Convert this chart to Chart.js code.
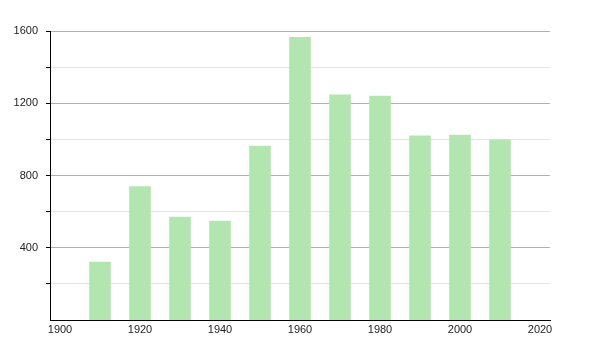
<!DOCTYPE html>
<html><head><meta charset="utf-8">
<script src="https://cdn.jsdelivr.net/npm/chart.js@4"></script>
<style>html,body{margin:0;padding:0;background:#fff}#c{display:block}</style>
</head><body>
<canvas id="c" width="600" height="350"></canvas>
<script>
const years = [1910, 1920, 1930, 1940, 1950, 1960, 1970, 1980, 1990, 2000, 2010];
const population = [320, 738, 570, 548, 963, 1565, 1246, 1240, 1019, 1024, 997];
const xTicks = [1900, 1920, 1940, 1960, 1980, 2000, 2020];
const yLabels = [400, 800, 1200, 1600];

const ctx = document.getElementById('c').getContext('2d');
new Chart(ctx, {
  type: 'bar',
  data: {
    datasets: [{
      data: years.map((y, i) => ({x: y, y: population[i]})),
      backgroundColor: 'rgb(179,229,177)',
      borderWidth: 0,
      barThickness: 21
    }]
  },
  options: {
    responsive: false,
    animation: false,
    layout: {padding: {top: 31, right: 50, left: 0, bottom: 0}},
    plugins: {legend: {display: false}, tooltip: {enabled: false}},
    scales: {
      x: {
        type: 'linear',
        offset: false,
        min: 1897.5,
        max: 2022.5,
        afterBuildTicks: s => { s.ticks = xTicks.map(v => ({value: v})); },
        afterFit: s => { s.height = 30; },
        grid: {display: false, drawTicks: false, offset: false},
        border: {display: true, color: '#000', width: 1},
        ticks: {color: '#222', font: {family: 'Liberation Sans, Arial', size: 11}, padding: 3, maxRotation: 0, autoSkip: false, callback: v => String(v)}
      },
      y: {
        min: 0,
        max: 1600,
        afterBuildTicks: s => { const t = []; for (let v = 200; v <= 1600; v += 200) t.push({value: v}); s.ticks = t; },
        afterFit: s => { s.width = 50; },
        grid: {
          color: c => (c.tick && yLabels.includes(c.tick.value)) ? '#b0b0b0' : '#e4e4e4',
          tickColor: '#000',
          tickLength: 4,
          drawTicks: true
        },
        border: {display: true, color: '#000', width: 1},
        ticks: {
          color: '#222',
          font: {family: 'Liberation Sans, Arial', size: 11},
          padding: 8,
          autoSkip: false,
          callback: v => yLabels.includes(v) ? String(v) : ''
        }
      }
    }
  }
});
</script>
</body></html>
